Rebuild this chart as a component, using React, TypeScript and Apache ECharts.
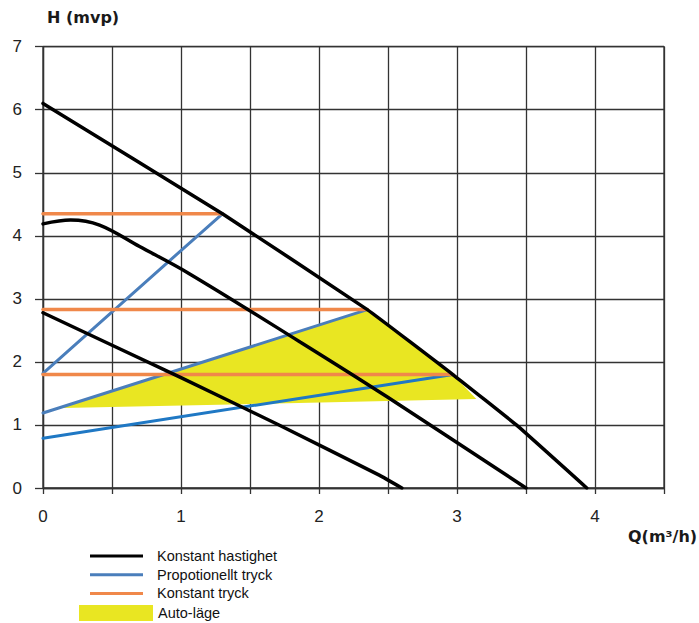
import React, { useEffect, useRef } from "react";
import * as echarts from "echarts";

// Konstant hastighet (three pump curves)
const topCurve = [[0, 6.1], [1.3, 4.35], [2.35, 2.83], [2.97, 1.8], [3.43, 1.0], [3.94, 0]];
const midCurve = [[0, 4.19], [0.2, 4.25], [0.41, 4.17], [0.7, 3.83], [1.06, 3.4], [1.86, 2.32], [2.49, 1.45], [3.5, 0]];
const lowCurve = [[0, 2.78], [1, 1.75], [1.71, 1.0], [2.44, 0.2], [2.6, 0]];

// Propotionellt tryck
const propHigh = [[0, 1.82], [1.3, 4.35]];
const propMid = [[0, 1.19], [2.35, 2.83]];
const propLow = [[0, 0.79], [2.97, 1.8]];

// Konstant tryck
const constHigh = [[0, 4.35], [1.3, 4.35]];
const constMid = [[0, 2.83], [2.35, 2.83]];
const constLow = [[0, 1.8], [2.97, 1.8]];

// Auto-läge region
const autoArea = [[0.14, 1.28], [2.35, 2.83], [2.66, 2.33], [2.97, 1.8], [3.14, 1.41], [1.45, 1.33], [0.14, 1.27]];

const xTickLabels = ["0", "1", "2", "3", "4"];

const NAME_K = "Konstant hastighet";
const NAME_P = "Propotionellt tryck";
const NAME_T = "Konstant tryck";
const NAME_A = "Auto-läge";

const BLACK = "#000000";
const BLUE = "#4a7ebb";
const BLUE2 = "#1f78c4";
const ORANGE = "#f0884a";
const YELLOW = "#e9e622";
const GRID = "#333333";

export default function App() {
  const ref = useRef<HTMLDivElement>(null);

  useEffect(() => {
    if (!ref.current) return;
    const chart = echarts.init(ref.current, undefined, { renderer: "svg" });

    const lineSeries = (name: string, data: number[][], color: string, width: number, z: number, smooth: number | boolean = false) => ({
      name,
      type: "line",
      data,
      showSymbol: false,
      symbol: "none",
      smooth,
      z,
      lineStyle: { color, width, cap: "round", join: "round" },
      itemStyle: { color },
    });

    chart.setOption({
      animation: false,
      backgroundColor: "#ffffff",
      grid: {
        left: 43,
        right: 35,
        top: 46.7,
        bottom: 135,
        show: true,
        borderColor: GRID,
        borderWidth: 1.3,
        backgroundColor: "transparent",
      },
      xAxis: {
        type: "value",
        min: 0,
        max: 4.5,
        interval: 0.5,
        axisLine: { show: true, lineStyle: { color: GRID, width: 1.3 } },
        axisTick: { show: true, length: 6, lineStyle: { color: GRID, width: 1.3 } },
        splitLine: { show: true, lineStyle: { color: GRID, width: 1.3 } },
        axisLabel: {
          margin: 20,
          fontSize: 17,
          color: "#222",
          fontFamily: "Liberation Sans",
          formatter: (v: number) => (Number.isInteger(v) ? xTickLabels[v] ?? "" : ""),
        },
      },
      yAxis: {
        type: "value",
        min: 0,
        max: 7,
        interval: 1,
        axisLine: { show: true, lineStyle: { color: GRID, width: 1.3 } },
        axisTick: { show: true, length: 8, lineStyle: { color: GRID, width: 1.3 } },
        splitLine: { show: true, lineStyle: { color: GRID, width: 1.3 } },
        axisLabel: {
          margin: 21,
          fontSize: 17,
          color: "#222",
          fontFamily: "Liberation Sans",
        },
      },
      legend: [
        {
          orient: "vertical",
          left: 90,
          top: 548.5,
          padding: 0,
          itemWidth: 53,
          itemHeight: 3,
          itemGap: 3.7,
          selectedMode: false,
          icon: "rect",
          data: [NAME_K, NAME_P, NAME_T],
          textStyle: {
            fontFamily: "Liberation Sans",
            fontSize: 14.5,
            lineHeight: 15,
            color: "#111",
            padding: [0, 0, 0, 9],
          },
        },
        {
          orient: "vertical",
          left: 79,
          top: 605,
          padding: 0,
          itemWidth: 74,
          itemHeight: 16,
          selectedMode: false,
          data: [{ name: NAME_A, icon: "rect" }],
          textStyle: {
            fontFamily: "Liberation Sans",
            fontSize: 14.5,
            lineHeight: 15,
            color: "#111",
          },
        },
      ],
      graphic: [
        {
          type: "text",
          left: 47,
          top: 9,
          style: { text: "H (mvp)", font: "bold 16px 'DejaVu Sans'", fill: "#1a1a1a" },
        },
        {
          type: "text",
          left: 628,
          top: 528,
          style: { text: "Q(m³/h)", font: "bold 16px 'DejaVu Sans'", fill: "#1a1a1a" },
        },
      ],
      series: [
        {
          name: NAME_A,
          type: "custom",
          z: 1,
          data: autoArea,
          encode: { x: 0, y: 1 },
          itemStyle: { color: YELLOW },
          renderItem: (params: any, api: any) => {
            if (params.dataIndex !== 0) return null;
            const pts = autoArea.map((p) => api.coord(p));
            return {
              type: "polygon",
              shape: { points: pts },
              style: { fill: YELLOW, stroke: "none" },
            };
          },
        },
        lineSeries(NAME_P, propHigh, BLUE, 3, 3),
        lineSeries(NAME_P, propMid, BLUE, 3, 3),
        lineSeries(NAME_P, propLow, BLUE2, 3, 3),
        lineSeries(NAME_T, constHigh, ORANGE, 3.5, 4),
        lineSeries(NAME_T, constMid, ORANGE, 3.5, 4),
        lineSeries(NAME_T, constLow, ORANGE, 3.5, 4),
        lineSeries(NAME_K, topCurve, BLACK, 3.5, 5, 0.1),
        lineSeries(NAME_K, midCurve, BLACK, 3.5, 5, 0.35),
        lineSeries(NAME_K, lowCurve, BLACK, 3.5, 5, 0.1),
      ],
    });

    return () => chart.dispose();
  }, []);

  return (
    <div
      ref={ref}
      style={{ position: "fixed", left: 0, top: 0, width: 699, height: 623, background: "#fff" }}
    />
  );
}
